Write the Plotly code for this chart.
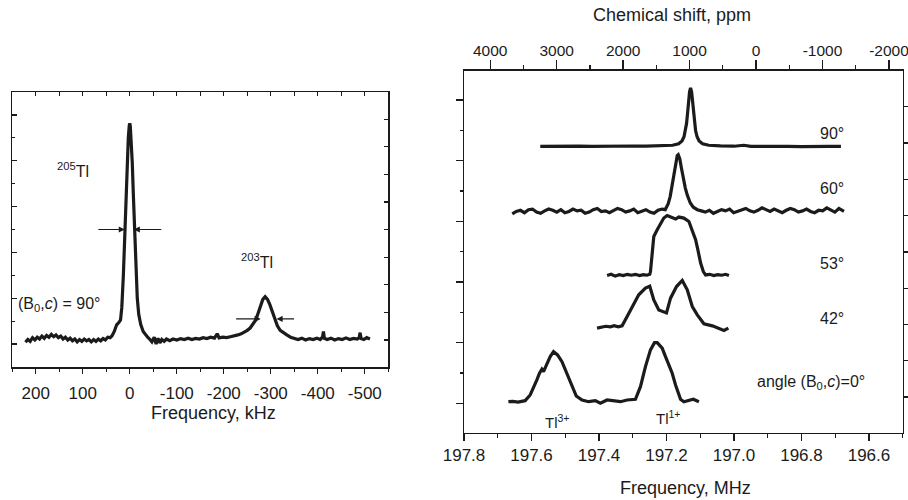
import plotly.graph_objects as go

# ---------------- data: left panel (205Tl / 203Tl spectrum, (B0,c)=90°) ----------------
left_khz = [222, 217, 212, 207, 202, 197, 192, 187, 182, 177, 172, 167, 162, 157, 152, 147, 142, 137,
            132, 127, 122, 117, 112, 107, 102, 97, 92, 87, 82, 77, 72, 67, 62, 57, 52, 47, 42, 38,
            33, 28, 23, 19.7, 17, 15.9, 13.7, 11.6, 9.5, 7.4, 5.3, 3.2, 1.1, 0, -1.1, -3.2, -5.3, -7.4,
            -9.5, -11.6, -13.7, -15.9, -19, -23.3, -28.5, -33.8, -38, -42, -47, -52, -56, -60, -64, -68,
            -73, -78, -85, -92, -100, -108, -116, -124, -132, -140, -148, -156, -164, -172, -180, -186,
            -190, -198, -206, -214, -222, -230, -237, -244, -250, -256, -262, -268, -273, -278, -283,
            -288, -293, -298, -303, -308, -314, -320, -327, -334, -342, -350, -358, -366, -374, -382,
            -390, -398, -405, -410, -412, -414, -420, -428, -436, -444, -452, -460, -468, -476, -484,
            -488, -490, -492, -498, -504, -511]
left_int = [0.08, 0.2, 0.12, 0.28, 0.18, 0.3, 0.22, 0.35, 0.25, 0.38, 0.3, 0.42, 0.32, 0.4, 0.28, 0.35, 0.22, 0.3,
            0.18, 0.26, 0.14, 0.22, 0.1, 0.2, 0.12, 0.22, 0.14, 0.2, 0.1, 0.2, 0.12, 0.22, 0.14, 0.24, 0.18, 0.3, 0.28, 0.35,
            0.55, 0.84, 0.95, 1.05, 1.6, 2.0, 3.0, 4.2, 5.5, 6.8, 8.0, 9.0, 9.55, 9.63, 9.5, 8.9, 7.9, 6.6,
            5.3, 4.0, 2.9, 2.0, 1.3, 0.85, 0.55, 0.38, 0.3, 0.22, 0.1, 0.3, 0.0, 0.25, 0.05, 0.2,
            0.12, 0.22, 0.15, 0.22, 0.18, 0.24, 0.2, 0.26, 0.2, 0.25, 0.22, 0.28, 0.24, 0.3, 0.26, 0.45,
            0.27, 0.3, 0.28, 0.32, 0.35, 0.4, 0.45, 0.52, 0.6, 0.7, 0.85, 1.05, 1.35, 1.7, 1.95,
            2.07, 1.95, 1.72, 1.4, 1.08, 0.8, 0.6, 0.48, 0.4, 0.3, 0.26, 0.2, 0.26, 0.18, 0.24,
            0.2, 0.26, 0.2, 0.3, 0.55, 0.25, 0.2, 0.26, 0.18, 0.24, 0.2, 0.27, 0.2, 0.25, 0.22,
            0.28, 0.5, 0.24, 0.2, 0.28, 0.22]

left_tickvals = [200, 100, 0, -100, -200, -300, -400, -500]
left_ticktext = ["200", "100", "0", "-100", "-200", "-300", "-400", "-500"]

# ---------------- data: right panel (angle series) ----------------
angles = ["90°", "60°", "53°", "42°", "angle (B<sub>0</sub>,<i>c</i>)=0°"]
offsets = [4.234, 3.152, 2.106, 1.21, 0.0]

f90 = [197.574, 197.54, 197.50, 197.46, 197.42, 197.38, 197.34, 197.30, 197.26, 197.22, 197.2, 197.182,
       197.164, 197.154, 197.148, 197.1435, 197.1405, 197.1375, 197.1345, 197.1316, 197.1286, 197.1256,
       197.1227, 197.1197, 197.1167, 197.1137, 197.1093, 197.1033, 197.0929, 197.075, 197.04, 197.0,
       196.971, 196.95, 196.92, 196.88, 196.84, 196.80, 196.76, 196.72, 196.683]
i90 = [0.0, 0.004, -0.003, 0.005, 0.0, 0.006, 0.002, 0.008, 0.004, 0.01, 0.012, 0.02,
       0.045, 0.09, 0.16, 0.26, 0.38, 0.55, 0.75, 0.9, 0.964, 0.9,
       0.75, 0.55, 0.38, 0.26, 0.16, 0.09, 0.045, 0.02, 0.01, 0.004,
       0.02, 0.003, 0.0, 0.006, 0.002, -0.003, 0.005, 0.0, 0.002]

f60 = [197.657, 197.645, 197.633, 197.621, 197.609, 197.597, 197.585, 197.573, 197.561, 197.549, 197.537,
       197.525, 197.513, 197.501, 197.489, 197.477, 197.465, 197.453, 197.441, 197.429, 197.417, 197.405,
       197.393, 197.381, 197.369, 197.357, 197.345, 197.333, 197.321, 197.309, 197.297, 197.285, 197.273,
       197.261, 197.249, 197.237, 197.225, 197.213,
       197.2037, 197.1948, 197.1889, 197.183, 197.177, 197.1725, 197.1681, 197.1651, 197.1606, 197.1562,
       197.1502, 197.1443, 197.1384, 197.1294, 197.1205, 197.1087, 197.0967,
       197.085, 197.073, 197.061, 197.049, 197.037, 197.025, 197.013, 197.001, 196.989, 196.977, 196.965,
       196.953, 196.941, 196.929, 196.917, 196.905, 196.893, 196.881, 196.869, 196.857, 196.845, 196.833,
       196.821, 196.809, 196.797, 196.785, 196.773, 196.761, 196.749, 196.737, 196.725, 196.713, 196.701,
       196.689, 196.674]
i60 = [-0.03, 0.01, 0.03, -0.01, 0.04, 0.05, 0.0, -0.02, 0.02, 0.05, 0.03,
       0.0, 0.04, -0.01, 0.01, 0.05, 0.02, 0.03, -0.02, 0.0, 0.04, 0.06,
       0.01, 0.02, -0.01, 0.03, 0.06, 0.04, 0.0, 0.02, 0.05, -0.01, 0.02,
       0.04, 0.0, -0.02, 0.03, 0.05,
       0.04, 0.14, 0.26, 0.45, 0.66, 0.82, 0.93, 0.945, 0.88, 0.74,
       0.55, 0.4, 0.28, 0.15, 0.08, 0.04, 0.02,
       0.0, 0.03, -0.02, 0.01, 0.04, 0.02, 0.05, -0.01, 0.01, 0.04, 0.06,
       0.02, 0.0, 0.03, 0.07, 0.04, 0.01, 0.05, 0.02, -0.01, 0.03, 0.06,
       0.04, 0.0, 0.02, 0.05, 0.01, -0.01, 0.03, 0.02, 0.07, 0.03, 0.0,
       0.06, 0.01]

f53 = [197.376, 197.364, 197.352, 197.34, 197.328, 197.316, 197.304, 197.292, 197.28, 197.268, 197.258,
       197.2495, 197.2474, 197.2424, 197.2376, 197.2275, 197.2177, 197.2079, 197.1978, 197.19, 197.183,
       197.1731, 197.1633, 197.1485, 197.1336, 197.1235, 197.1137, 197.1069, 197.0988, 197.0908, 197.084,
       197.072, 197.06, 197.048, 197.036, 197.025, 197.0148]
i53 = [0.0, 0.02, -0.01, 0.015, 0.0, 0.02, 0.005, 0.02, 0.0, 0.015, 0.005,
       0.02, 0.066, 0.424, 0.643, 0.756, 0.866, 0.949, 0.99, 0.97, 0.964,
       0.931, 0.964, 0.947, 0.891, 0.756, 0.591, 0.424, 0.205, 0.066, 0.01,
       0.02, 0.0, 0.015, 0.005, 0.02, 0.0]

f42 = [197.4058, 197.393, 197.38, 197.3662, 197.355, 197.343, 197.3315, 197.3166, 197.297, 197.2822,
       197.2623, 197.2495, 197.2376, 197.2228, 197.1999, 197.188, 197.1702, 197.1532, 197.1384, 197.1235,
       197.1087, 197.0891, 197.0641, 197.0445, 197.0297, 197.0166]
i42 = [0.03, 0.04, 0.06, 0.05, 0.07, 0.05, 0.066, 0.22, 0.44, 0.578,
       0.688, 0.72, 0.495, 0.33, 0.28, 0.523, 0.715, 0.814, 0.66, 0.385,
       0.248, 0.1, 0.066, 0.028, -0.01, 0.03]

f0 = [197.6684, 197.655, 197.64, 197.628, 197.6188, 197.6039, 197.5941, 197.584, 197.5763, 197.5692,
      197.5644, 197.5543, 197.5445, 197.5347, 197.5228, 197.5097, 197.4999, 197.4901, 197.48, 197.4673,
      197.4503, 197.4307, 197.4108, 197.396, 197.376, 197.3564, 197.3365, 197.3166, 197.292, 197.2771,
      197.2623, 197.2474, 197.2355, 197.2275, 197.2127, 197.2029, 197.1931, 197.183, 197.1731, 197.1583,
      197.1485, 197.1336, 197.1206, 197.1039]
i0 = [0.026, 0.03, 0.02, 0.04, 0.043, 0.137, 0.248, 0.385, 0.495, 0.561,
      0.521, 0.66, 0.769, 0.851, 0.797, 0.686, 0.55, 0.439, 0.274, 0.12,
      0.054, 0.026, 0.043, 0.0, 0.054, 0.043, 0.026, 0.054, 0.066, 0.274,
      0.604, 0.88, 1.0, 1.0, 0.908, 0.769, 0.632, 0.495, 0.302, 0.066,
      0.026, 0.054, 0.066, 0.026]

mhz_tickvals = [197.8, 197.6, 197.4, 197.2, 197.0, 196.8, 196.6]
mhz_ticktext = ["197.8", "197.6", "197.4", "197.2", "197.0", "196.8", "196.6"]
ppm_tickvals = [4000, 3000, 2000, 1000, 0, -1000, -2000]
ppm_ticktext = ["4000", "3000", "2000", "1000", "0", "-1000", "-2000"]
ref_mhz = 196.93458          # frequency of 0 ppm
mhz_range = [197.8, 196.5]

# ---------------- layout helpers ----------------
W, H = 908, 500
def PX(x):
    return x / W
def PY(y):
    return 1 - y / H

FONT = "Liberation Sans, Arial, Helvetica, sans-serif"
INK = "#1b1b1b"
LINE_W = 3.2

fig = go.Figure()
fig.add_trace(go.Scatter(x=left_khz, y=left_int, mode="lines",
                         line=dict(color=INK, width=LINE_W), xaxis="x", yaxis="y", showlegend=False,
                         hoverinfo="skip"))

spectra = [(f90, i90), (f60, i60), (f53, i53), (f42, i42), (f0, i0)]
for (fx, iy), off in zip(spectra, offsets):
    fig.add_trace(go.Scatter(x=fx, y=[v + off for v in iy], mode="lines",
                             line=dict(color=INK, width=LINE_W), xaxis="x2", yaxis="y2",
                             showlegend=False, hoverinfo="skip"))

# empty traces so that the mirrored (overlay) axes get drawn
fig.add_trace(go.Scatter(x=[], y=[], xaxis="x5", yaxis="y5", showlegend=False, hoverinfo="skip"))
fig.add_trace(go.Scatter(x=[], y=[], xaxis="x3", yaxis="y3", showlegend=False, hoverinfo="skip"))

ppm_range = [(f - ref_mhz) / ref_mhz * 1e6 for f in mhz_range]

tickfont = dict(family=FONT, size=17, color=INK)
topfont = dict(family=FONT, size=15.5, color=INK)
ax_common = dict(showgrid=False, zeroline=False, showline=True, linecolor=INK, linewidth=1.5,
                 tickcolor=INK, tickwidth=1.3, autorange=False, automargin=False, fixedrange=True)

fig.update_layout(
    template="none",
    width=W, height=H, margin=dict(l=0, r=0, t=0, b=0, pad=0),
    paper_bgcolor="white", plot_bgcolor="white",
    font=dict(family=FONT, color=INK),
    # left panel
    xaxis=dict(domain=[PX(12.3), PX(388.3)], anchor="y", range=[250, -550],
               tickmode="array", tickvals=left_tickvals, ticktext=left_ticktext,
               ticks="outside", ticklen=5, tickfont=tickfont, ticklabelstandoff=5,
               minor=dict(ticks="outside", ticklen=3, tickmode="linear", tick0=0, dtick=50,
                          tickcolor=INK, tickwidth=1.3),
               **ax_common),
    xaxis5=dict(overlaying="x", anchor="y5", side="top", range=[250, -550],
                tickmode="linear", tick0=0, dtick=50, ticks="inside", ticklen=4,
                showticklabels=False, **ax_common),
    yaxis=dict(domain=[PY(367), PY(92)], anchor="x", range=[-1, 11],
               tickmode="linear", tick0=0, dtick=2, ticks="inside", ticklen=5, showticklabels=False,
               minor=dict(ticks="inside", ticklen=3, tickmode="linear", tick0=0, dtick=1,
                          tickcolor=INK, tickwidth=1.3),
               **ax_common),
    yaxis5=dict(overlaying="y", anchor="x5", side="right", range=[-0.978, 8.986],
                tickmode="linear", tick0=0, dtick=1, ticks="inside", ticklen=4,
                showticklabels=False, **ax_common),
    # right panel
    xaxis2=dict(domain=[PX(464), PX(902.7)], anchor="y2", range=mhz_range,
                tickmode="array", tickvals=mhz_tickvals, ticktext=mhz_ticktext,
                ticks="outside", ticklen=7, tickfont=tickfont, ticklabelstandoff=-1,
                minor=dict(ticks="outside", ticklen=4, tickmode="linear", tick0=197.8, dtick=0.1,
                           tickcolor=INK, tickwidth=1.3),
                **ax_common),
    xaxis3=dict(overlaying="x2", anchor="y3", side="top", range=ppm_range,
                tickmode="array", tickvals=ppm_tickvals, ticktext=ppm_ticktext,
                ticks="outside", ticklen=9, tickfont=topfont, ticklabelstandoff=-2,
                ticklabeloverflow="allow",
                minor=dict(ticks="outside", ticklen=4, tickmode="linear", tick0=0, dtick=500,
                           tickcolor=INK, tickwidth=1.3),
                **ax_common),
    yaxis2=dict(domain=[PY(432.7), PY(70.7)], anchor="x2", range=[-0.485, 5.483],
                tickmode="linear", tick0=0, dtick=1, ticks="outside", ticklen=7, showticklabels=False,
                minor=dict(ticks="outside", ticklen=3, tickmode="linear", tick0=0, dtick=0.5,
                           tickcolor=INK, tickwidth=1.3),
                **ax_common),
    yaxis3=dict(overlaying="y2", anchor="x3", side="right", range=[-0.98, 8.99],
                tickmode="linear", tick0=0, dtick=1, ticks="outside", ticklen=5,
                showticklabels=False, **ax_common),
)

def note(text, x, y, size=16):
    fig.add_annotation(text=text, x=PX(x), y=PY(y), xref="paper", yref="paper",
                       showarrow=False, font=dict(family=FONT, size=size, color=INK),
                       xanchor="center", yanchor="middle")

# axis titles
note("Frequency, kHz", 213, 413, 18)
note("Frequency, MHz", 685, 488, 18)
note("Chemical shift, ppm", 672, 15, 18)

# left panel labels
note("<sup>205</sup>Tl", 72.5, 170, 16)
note("<sup>203</sup>Tl", 257, 261, 16)
note("(B<sub>0</sub>,<i>c</i>) = 90°", 59, 304, 16)

# right panel labels
label_pos = [(832, 133), (832, 188), (832, 263), (832, 318), (811, 382)]
for txt, (lx, ly) in zip(angles, label_pos):
    note(txt, lx, ly, 16)
note("Tl<sup>3+</sup>", 557, 421, 15)
note("Tl<sup>1+</sup>", 668, 417, 15)

# FWHM arrows (tips in data coordinates, tails as pixel offsets)
arrow_style = dict(showarrow=True, arrowhead=2, arrowsize=1.1, arrowwidth=1.1, arrowcolor=INK,
                   text="", xref="x", yref="y")
fig.add_annotation(x=10.6, y=5.0, ax=-28, ay=0, **arrow_style)
fig.add_annotation(x=-8.5, y=5.0, ax=29, ay=0, **arrow_style)
fig.add_annotation(x=-278.4, y=1.1, ax=-26, ay=0, **arrow_style)
fig.add_annotation(x=-312.3, y=1.1, ax=19, ay=0, **arrow_style)

fig.write_html("out.html", config=dict(displayModeBar=False, staticPlot=True))
